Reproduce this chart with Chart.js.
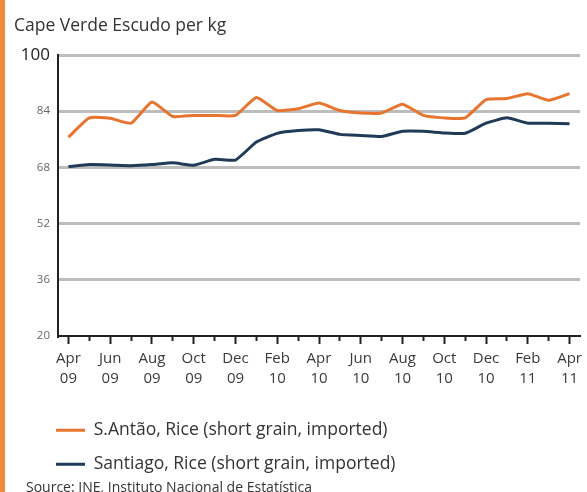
<!DOCTYPE html>
<html>
<head>
<meta charset="utf-8">
<script src="https://cdn.jsdelivr.net/npm/chart.js@4"></script>
<style>
    body { margin: 0; background: #fff; }
    #wrap { position: relative; width: 587px; height: 492px; overflow: hidden; font-family: "Open Sans", sans-serif; }
    #barra { position: absolute; left: 0; top: 0; width: 5px; height: 492px; background: #ef8a3e; }
    #titulo { position: absolute; left: 14px; top: 11px; font-size: 17.5px; line-height: 26px; color: #333; white-space: nowrap; }
    #fuente { position: absolute; left: 26px; top: 477px; font-size: 14px; line-height: 20px; color: #333; white-space: nowrap; }
    #grafico { position: absolute; left: 0; top: 0; }
</style>
</head>
<body>
<div id="wrap">
    <div id="barra"></div>
    <canvas id="grafico" width="587" height="492"></canvas>
    <div id="titulo">Cape Verde Escudo per kg</div>
    <div id="fuente">Source: INE, Instituto Nacional de Estatística</div>
</div>
<script>
const meses = ['Apr 09', 'May 09', 'Jun 09', 'Jul 09', 'Aug 09', 'Sep 09', 'Oct 09', 'Nov 09', 'Dec 09',
    'Jan 10', 'Feb 10', 'Mar 10', 'Apr 10', 'May 10', 'Jun 10', 'Jul 10', 'Aug 10', 'Sep 10', 'Oct 10',
    'Nov 10', 'Dec 10', 'Jan 11', 'Feb 11', 'Mar 11', 'Apr 11'];

const santoAntao = [76.6, 82.1, 82.0, 80.6, 86.6, 82.5, 82.8, 82.8, 82.8, 87.9, 84.2, 84.7, 86.3,
    84.2, 83.5, 83.5, 86.0, 82.8, 82.1, 82.1, 87.3, 87.6, 89.0, 87.1, 89.0];

const santiago = [68.2, 68.8, 68.7, 68.5, 68.8, 69.3, 68.6, 70.3, 70.1, 75.2, 77.7, 78.5, 78.7,
    77.4, 77.1, 76.8, 78.3, 78.3, 77.8, 77.7, 80.6, 82.1, 80.6, 80.6, 80.4];

const series = [
    {label: 'S.Antão, Rice (short grain, imported)', data: santoAntao, color: '#e8752f'},
    {label: 'Santiago, Rice (short grain, imported)', data: santiago, color: '#1f3b58'},
];

const yTicks = {min: 20, max: 100, step: 16};
const fuente = '"Open Sans", sans-serif';

// la leyenda empieza alineada con el eje y, no con el borde
const moverLeyenda = {
    id: 'moverLeyenda',
    afterLayout(chart) {
        chart.legend.left += 24.5;
    }
};

function drawChart(context) {
    return new Chart(context, {
        type: 'line',
        data: {
            labels: meses,
            datasets: series.map((item) => {
                return {
                    label: item.label,
                    data: item.data,
                    borderColor: item.color,
                    backgroundColor: item.color,
                    borderWidth: 3,
                    pointRadius: 0,
                    tension: 0.15,
                    fill: false,
                }
            })
        },
        plugins: [moverLeyenda],
        options: {
            responsive: false,
            animation: false,
            devicePixelRatio: 1,
            layout: {padding: {left: 15, top: 55, right: 2, bottom: 9}},
            scales: {
                x: {
                    offset: true,
                    afterFit: (scale) => { scale.height = 69 },
                    border: {display: true, color: '#222', width: 2},
                    grid: {
                        offset: false,
                        drawOnChartArea: false,
                        drawTicks: true,
                        tickLength: 8,
                        tickWidth: 2,
                        tickColor: '#222',
                        // meses sin etiqueta: marca corta
                        tickBorderDash: (ctx) => ctx.index % 2 ? [4, 30] : [],
                    },
                    ticks: {
                        autoSkip: false,
                        maxRotation: 0,
                        padding: 5,
                        color: '#3a3a3a',
                        font: {family: fuente, size: 15, lineHeight: 1.33},
                        callback: function (value, index) {
                            return index % 2 === 0 ? this.getLabelForValue(value).split(' ') : '';
                        }
                    }
                },
                y: {
                    min: yTicks.min,
                    max: yTicks.max,
                    afterFit: (scale) => { scale.width = 43 },
                    border: {display: true, color: '#222', width: 2},
                    grid: {
                        drawTicks: false,
                        lineWidth: 3,
                        color: (ctx) => ctx.tick && ctx.tick.value === yTicks.min ? 'rgba(0,0,0,0)' : '#bdbdbd',
                    },
                    ticks: {
                        stepSize: yTicks.step,
                        padding: 8,
                        color: (ctx) => ctx.tick && ctx.tick.value === yTicks.max ? '#222' : '#666',
                        font: (ctx) => ({family: fuente, size: ctx.tick && ctx.tick.value === yTicks.max ? 17 : 11.5}),
                    }
                }
            },
            plugins: {
                tooltip: {enabled: false},
                title: {display: false},
                legend: {
                    position: 'bottom',
                    align: 'start',
                    labels: {
                        boxWidth: 29,
                        boxHeight: 3,
                        padding: 16.5,
                        color: '#333',
                        font: {family: fuente, size: 17.5},
                        generateLabels: (chart) => Chart.defaults.plugins.legend.labels.generateLabels(chart)
                            .map((item) => Object.assign(item, {lineWidth: 0, fillStyle: item.strokeStyle}))
                    }
                }
            }
        }
    });
}

document.addEventListener('DOMContentLoaded', () => {
    drawChart(document.getElementById('grafico').getContext('2d'));
});
</script>
</body>
</html>
